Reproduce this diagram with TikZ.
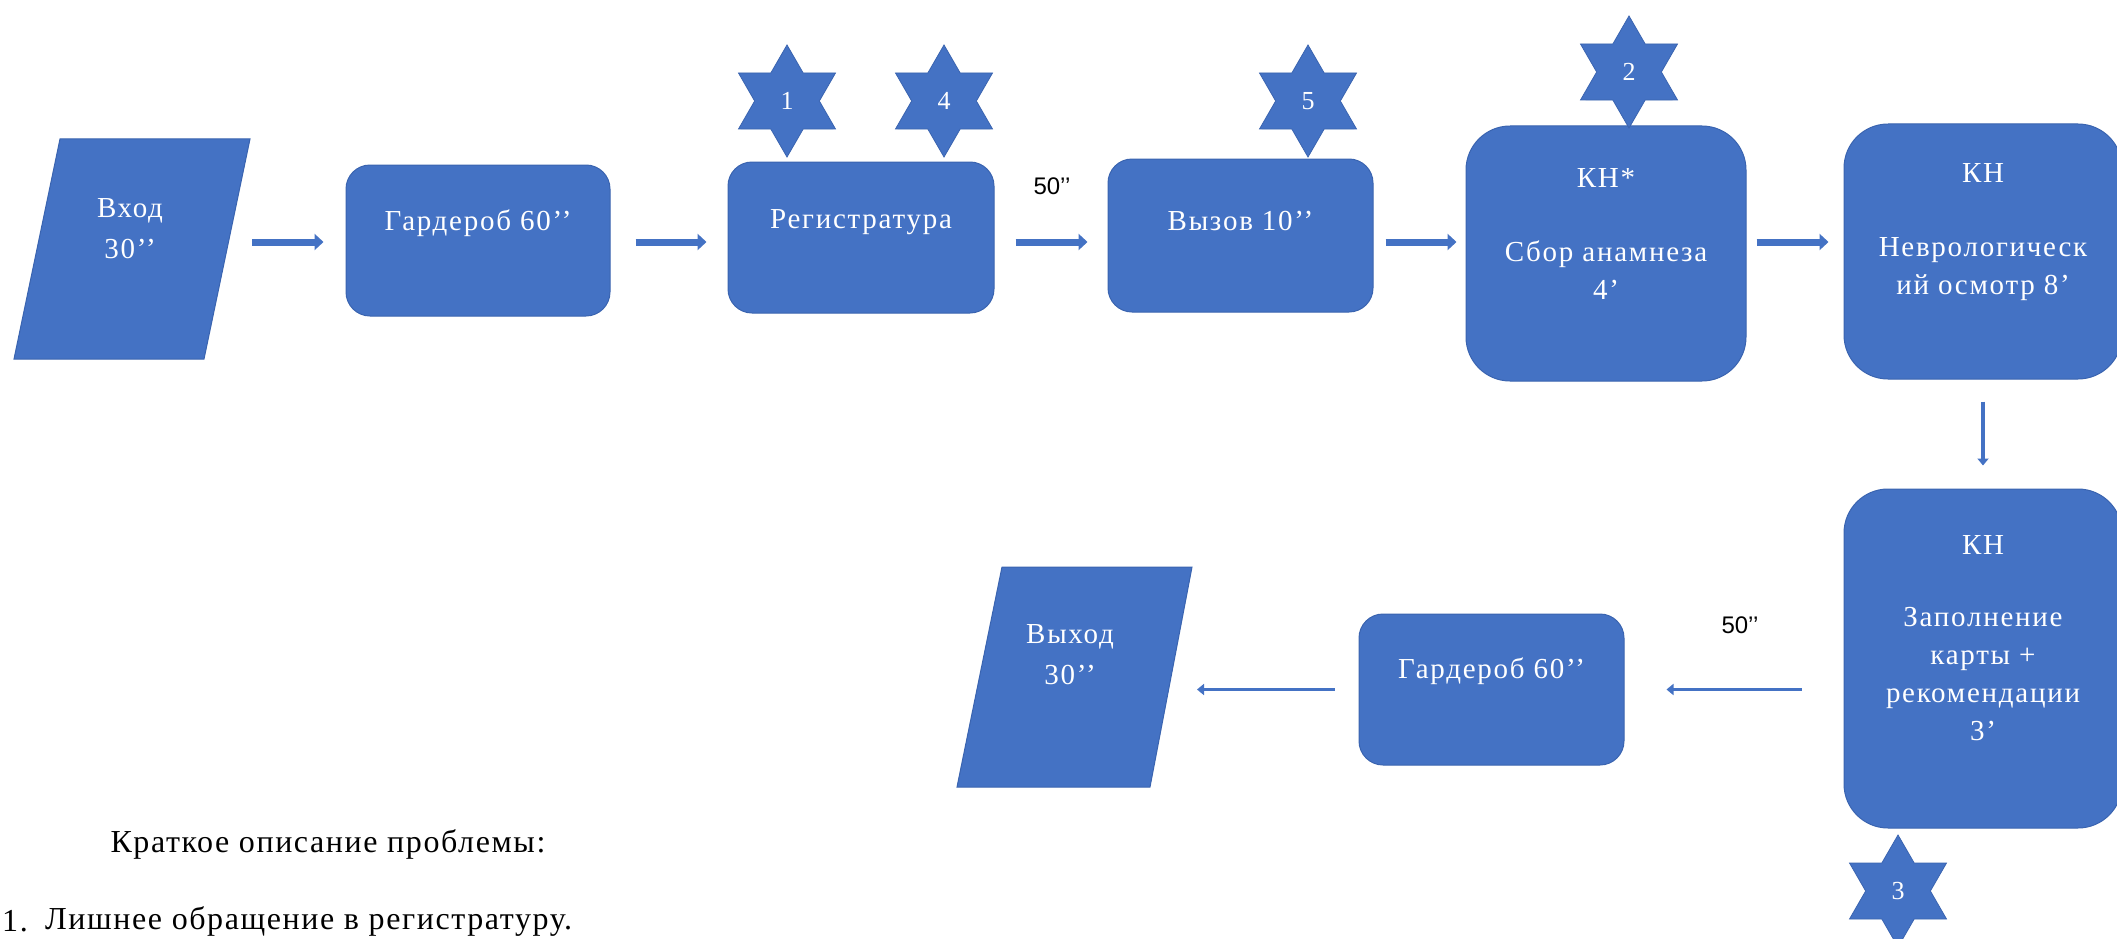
\documentclass[tikz,border=0pt]{standalone}
\usepackage{fontspec}
\setmainfont{Liberation Serif}
\newfontfamily\boxfont[LetterSpace=6]{Liberation Serif}
\newfontfamily\bodyfont[LetterSpace=5]{Liberation Serif}
\newfontfamily\labelfont{Liberation Sans}
\usetikzlibrary{arrows.meta,shapes.geometric}
\definecolor{boxblue}{HTML}{4472C4}
\definecolor{edgeblue}{HTML}{3A64B0}
\begin{document}
\begin{tikzpicture}[x=1pt,y=-1pt,
  box/.style={draw=edgeblue, line width=1pt, fill=boxblue, rounded corners=24pt, inner sep=0pt},
  bigbox/.style={box, rounded corners=44pt},
  para/.style={draw=edgeblue, line width=1pt, fill=boxblue},
  txt/.style={text=white, font=\boxfont\fontsize{29}{38}\selectfont, align=center, inner sep=0pt},
  startxt/.style={text=white, font=\boxfont\fontsize{26}{30}\selectfont},
  hexstar/.style={star, star points=6, star point ratio=1.732, fill=boxblue, draw=edgeblue,
                  line width=0.8pt, minimum size=112pt, inner sep=0pt, startxt},
  thickarrow/.style={draw=boxblue, line width=7pt, -{Triangle[length=9pt,width=16pt]}},
  thinarrow/.style={draw=boxblue, line width=3.5pt, -{Triangle[length=7pt,width=11pt]}},
  timelbl/.style={font=\labelfont\fontsize{24}{28}\selectfont, inner sep=0pt},
  plain/.style={font=\bodyfont\fontsize{32}{36}\selectfont, inner sep=0pt}
]
\useasboundingbox (0,0) rectangle (2117,939);
\fill[white] (0,0) rectangle (2117,939);
\clip (0,0) rectangle (2117,939);

% entry parallelogram
\path[para] (60,139) -- (250,139) -- (204,359) -- (14,359) -- cycle;
\node[txt] (vhod) at (130,229) {Вход\\[3pt]30’’};
\coordinate (vhodR) at (252,242);

% top row boxes
\node[box, minimum width=264pt, minimum height=151pt] (g1) at (478,240.5) {};
\node[txt] (g1t) at (478,223) {Гардероб 60’’};
\node[box, minimum width=266pt, minimum height=151pt] (reg) at (861,237.5) {};
\node[txt] (regt) at (861,222) {Регистратура};
\node[box, minimum width=265pt, minimum height=153pt] (vyz) at (1240.5,235.5) {};
\node[txt] (vyzt) at (1240.5,221) {Вызов 10’’};
\node[bigbox, minimum width=280pt, minimum height=255pt] (kn1) at (1606,253.5) {};
\node[txt] (kn1t) at (1606,234) {КН*\\[36pt]Сбор анамнеза\\4’};
\node[bigbox, minimum width=278pt, minimum height=255pt] (kn2) at (1983,251.5) {};
\node[txt] (kn2t) at (1983,232) {КН\\[36pt]Неврологическ\\ий осмотр 8’};

% right column / bottom row
\node[bigbox, minimum width=278pt, minimum height=339pt] (kn3) at (1983,658.5) {};
\node[txt] (kn3t) at (1983,638) {КН\\[34pt]Заполнение\\карты +\\рекомендации\\3’};
\node[box, minimum width=265pt, minimum height=151pt] (g2) at (1491.5,689.5) {};
\node[txt] (g2t) at (1491.5,671) {Гардероб 60’’};

% exit parallelogram
\path[para] (1002,567) -- (1192,567) -- (1150,787) -- (957,787) -- cycle;
\node[txt] (vyhod) at (1070,655) {Выход\\[3pt]30’’};
\coordinate (vyhodR) at (1197,689.5);

% stars
\node[hexstar] (s1) at (787,101) {1};
\node[hexstar] (s4) at (944,101) {4};
\node[hexstar] (s5) at (1308,101) {5};
\node[hexstar] (s2) at (1629,72) {2};
\node[hexstar] (s3) at (1898,891) {3};

% connectors
\draw[thickarrow, shorten >=22pt] (vhodR) -- (vhodR -| g1.west);
\draw[thickarrow, shorten <=25pt, shorten >=21pt] (g1.east |- vhodR) -- (vhodR -| reg.west);
\draw[thickarrow, shorten <=21pt, shorten >=20pt] (reg.east |- vhodR) -- (vhodR -| vyz.west);
\draw[thickarrow, shorten <=12pt, shorten >=9pt] (vyz.east |- vhodR) -- (vhodR -| kn1.west);
\draw[thickarrow, shorten <=10pt, shorten >=15pt] (kn1.east |- vhodR) -- (vhodR -| kn2.west);
\draw[thinarrow, shorten <=22pt, shorten >=23pt] (kn2.south) -- (kn3.north);
\draw[thinarrow, shorten <=42pt, shorten >=42pt] (kn3.west |- g2.east) -- (g2.east);
\draw[thinarrow, shorten <=24pt] (g2.west) -- (vyhodR);

% time labels
\node[timelbl] (l1) at (1052,186) {50’’};
\node[timelbl] (l2) at (1740,625) {50’’};

% description
\node[plain] (desc) at (328,844) {Краткое описание проблемы:};
\node[plain, anchor=west] (num1) at (2,921) {1.};
\node[plain, anchor=west] (item1) at (45,921) {Лишнее обращение в регистратуру.};
\end{tikzpicture}
\end{document}
